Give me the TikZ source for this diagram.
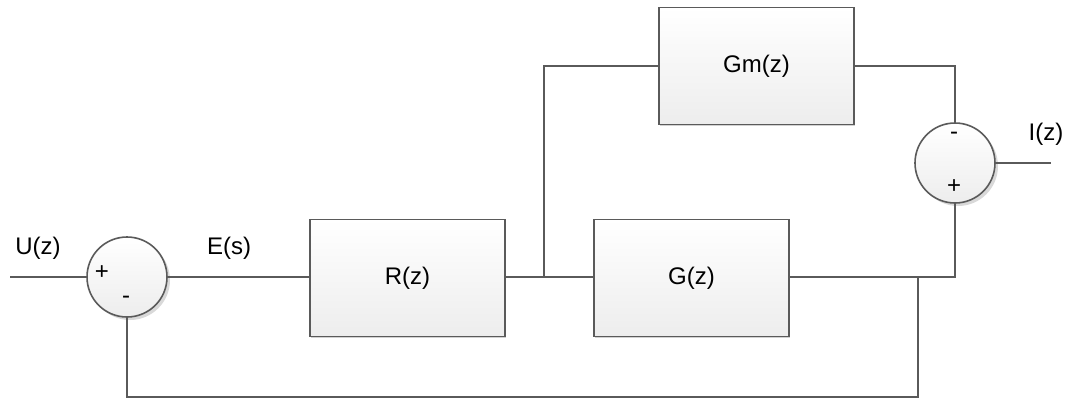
\documentclass[tikz,border=0pt]{standalone}
\usepackage{fontspec}
\setmainfont{Liberation Sans}
\usetikzlibrary{shadows}
\definecolor{wirecol}{HTML}{5A5A5A}
\definecolor{boxbot}{HTML}{EDEDED}
\begin{document}
\begin{tikzpicture}[x=1pt,y=-1pt,
  lbl/.style={font=\fontsize{24}{28}\selectfont, inner sep=0pt},
  wire/.style={draw=wirecol, line width=1.6pt},
  block/.style={draw=wirecol, line width=1.6pt, top color=white, bottom color=boxbot,
    minimum width=195pt, minimum height=117pt, inner sep=0pt,
    font=\fontsize{24}{28}\selectfont,
    drop shadow={shadow xshift=1.2pt, shadow yshift=-1.5pt, fill=black, opacity=0.18}},
  sumnode/.style={circle, draw=wirecol, line width=1.6pt, top color=white, bottom color=boxbot,
    minimum size=80pt, inner sep=0pt,
    drop shadow={shadow xshift=3pt, shadow yshift=-3pt, fill=black, opacity=0.15}}
]
\useasboundingbox (0,0) rectangle (1069,399);

% blocks and summing junctions
\node[sumnode] (s1) at (127,277) {};
\node[sumnode] (s2) at (955,163) {};
\node[block] (R)  at (407.5,278) {R(z)};
\node[block] (G)  at (691.5,278) {G(z)};
\node[block] (Gm) at (756.5,66)  {Gm(z)};

% signs on the summing junctions
\node[lbl] (p1) at (102,273) {+};
\node[lbl] (m1) at (126,300) {-};
\node[lbl] (m2) at (954,136) {-};
\node[lbl] (p2) at (954,187) {+};

% signal labels
\node[lbl] (lu) at (38,248)   {U(z)};
\node[lbl] (le) at (229,248)  {E(s)};
\node[lbl] (li) at (1046,134) {I(z)};

% branch points and free ends
\coordinate (in)  at (10,277);
\coordinate (j)   at (544,277);
\coordinate (fb)  at (918,277);
\coordinate (fbb) at (918,397);
\coordinate (out) at (1051,163);

% connectors
\draw[wire] (in) -- (s1.west);
\draw[wire] (s1.east) -- (R.west |- s1.east);
\draw[wire] (R.east |- j) -- (G.west |- j);
\draw[wire] (j) |- (Gm.west);
\draw[wire] (Gm.east) -| (s2.north);
\draw[wire] (G.east |- j) -| (s2.south);
\draw[wire] (fb) -- (fbb) -| (s1.south);
\draw[wire] (s2.east) -- (out);
\end{tikzpicture}
\end{document}
